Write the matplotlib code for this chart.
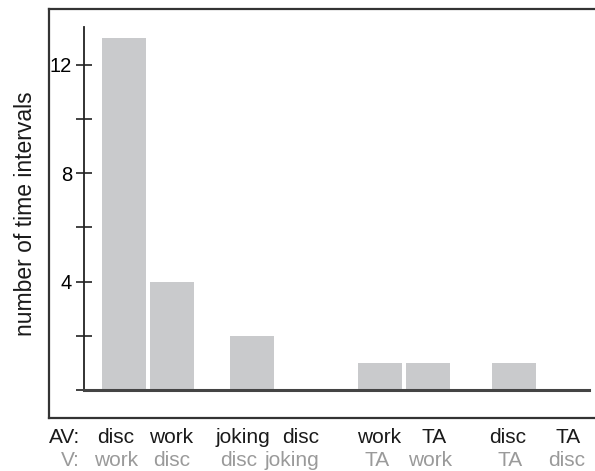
import matplotlib
matplotlib.use("Agg")
import matplotlib.pyplot as plt
import matplotlib.transforms as mtransforms

plt.rcParams["font.family"] = ["Liberation Sans", "DejaVu Sans"]

# counts per (AV, V) state pair
av_states = ["disc", "work", "joking", "disc", "work", "TA", "disc", "TA"]
v_states = ["work", "disc", "disc", "joking", "TA", "work", "TA", "disc"]
counts = [13, 4, 2, 0, 1, 1, 1, 0]

# bar slots, pairs grouped together
xpos = [0, 1, 2.667, 3.667, 5.333, 6.333, 8.125, 9.125]
av_xpos = [-0.17, 0.98, 2.48, 3.67, 5.31, 6.46, 8.0, 9.25]
v_xpos = [-0.17, 0.99, 2.38, 3.5, 5.27, 6.375, 8.04, 9.23]

W, H = 595, 471
fig = plt.figure(figsize=(W / 100, H / 100), dpi=100)

# outer frame
frame = fig.add_axes([49 / W, (H - 418) / H, 1.0, (418 - 9) / H])
frame.set_xticks([])
frame.set_yticks([])
frame.patch.set_alpha(0)
frame.spines["right"].set_visible(False)
for s in ["left", "top", "bottom"]:
    frame.spines[s].set_linewidth(1.6)
    frame.spines[s].set_color("#333333")

# inner plot area
ax = fig.add_axes([84 / W, (H - 390) / H, (589 - 84) / W, (390 - 27) / H])
ax.patch.set_alpha(0)
ax.bar(xpos, counts, width=0.92, color="#c9cacc")
ax.set_xlim((84 - 124) / 48, (589 - 124) / 48)
ax.set_ylim(0, 13.4)
ax.spines["top"].set_visible(False)
ax.spines["right"].set_visible(False)
ax.spines["left"].set_linewidth(1.3)
ax.spines["left"].set_color("#222222")
ax.spines["bottom"].set_linewidth(2.2)
ax.spines["bottom"].set_color("#444444")
ax.set_xticks([])
ax.set_yticks([4, 8, 12])
ax.set_yticks([0, 2, 6, 10], minor=True)
ax.tick_params(axis="y", which="both", direction="inout", length=11,
               width=1.2, color="#222222", labelsize=14.5, pad=3)

fig.text(26 / W, (H - 214) / H, "number of time intervals", rotation=90,
         ha="center", va="center", fontsize=16.5, color="#1a1a1a")

# state labels under the bars
trans = mtransforms.blended_transform_factory(ax.transData, fig.transFigure)
y_av = (H - 443) / H
y_v = (H - 466) / H
fs = 15
fig.text(80 / W, y_av, "AV:", ha="right", va="baseline", fontsize=fs, color="#1a1a1a")
fig.text(80 / W, y_v, "V:", ha="right", va="baseline", fontsize=fs, color="#9a9a9a")
for x, lab in zip(av_xpos, av_states):
    ax.text(x, y_av, lab, transform=trans, ha="center", va="baseline",
            fontsize=fs, color="#1a1a1a", clip_on=False)
for x, lab in zip(v_xpos, v_states):
    ax.text(x, y_v, lab, transform=trans, ha="center", va="baseline",
            fontsize=fs, color="#9a9a9a", clip_on=False)

fig.savefig("out.png", dpi=100)
